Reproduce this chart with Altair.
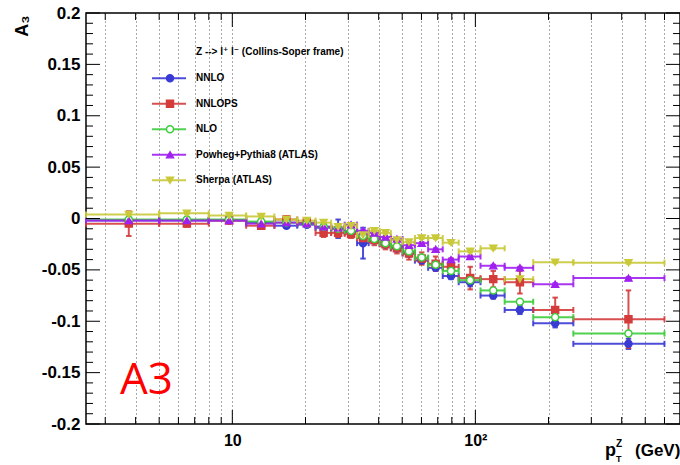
import math
import altair as alt
import pandas as pd

# ---------------- data ----------------
edges = [2.5, 5, 8, 11.4, 14.9, 18.5, 22, 25.5, 29, 32.6, 36.4, 40.4, 44.9,
         50.2, 56.4, 63.9, 73.4, 85.4, 105, 132, 173, 253, 600]

names = ["NNLO", "NNLOPS", "NLO", "Powheg+Pythia8 (ATLAS)", "Sherpa (ATLAS)"]

nnlo = [-0.002, -0.002, -0.002, -0.004, -0.007, -0.006, -0.009, -0.010, -0.013, -0.024, -0.021,
        -0.025, -0.029, -0.034, -0.041, -0.048, -0.056, -0.062, -0.075, -0.089, -0.102, -0.122]
nnlo_err = [0.002, 0.002, 0.002, 0.002, 0.002, 0.002, 0.003, 0.009, 0.003, 0.015, 0.003,
            0.003, 0.003, 0.003, 0.003, 0.003, 0.003, 0.004, 0.003, 0.004, 0.004, 0.005]

nnlops = [-0.005, -0.005, -0.002, -0.007, -0.001, -0.004, -0.014, -0.014, -0.015, -0.019, -0.021,
          -0.025, -0.029, -0.034, -0.039, -0.044, -0.047, -0.058, -0.059, -0.062, -0.089, -0.098]
nnlops_err = [0.012, 0.003, 0.002, 0.003, 0.003, 0.003, 0.004, 0.004, 0.004, 0.005, 0.005,
              0.005, 0.005, 0.006, 0.006, 0.007, 0.008, 0.011, 0.008, 0.011, 0.012, 0.028]

nlo = [-0.001, -0.001, -0.001, -0.003, -0.004, -0.005, -0.008, -0.010, -0.012, -0.017, -0.020,
       -0.024, -0.027, -0.032, -0.038, -0.045, -0.051, -0.060, -0.070, -0.081, -0.096, -0.112]
nlo_err = [0.002] * 22

powheg = [-0.002, -0.002, -0.002, -0.005, -0.004, -0.005, -0.008, -0.009, -0.006, -0.012, -0.014,
          -0.018, -0.020, -0.026, -0.024, -0.030, -0.040, -0.037, -0.046, -0.048, -0.064, -0.058]
powheg_err = [0.001] * 22

sherpa = [0.004, 0.005, 0.003, 0.002, -0.001, -0.002, -0.004, -0.008, -0.007, -0.016, -0.012,
          -0.014, -0.021, -0.023, -0.019, -0.019, -0.0235, -0.032, -0.029, -0.059, -0.0425, -0.043]
sherpa_err = [0.001] * 22

values = [nnlo, nnlops, nlo, powheg, sherpa]
errors = [nnlo_err, nnlops_err, nlo_err, powheg_err, sherpa_err]

legend_title = "Z --> l\u207a l\u207b  (Collins-Soper frame)"

# ---------------- style ----------------
colors = ["#3a3ad4", "#d43c3c", "#3dcc3d", "#a020f0", "#c9c93a"]
fills = ["#3a3ad4", "#d43c3c", "#ffffff", "#a020f0", "#c9c93a"]
shapes = ["circle", "square", "circle", "triangle-up", "triangle-down"]
sizes = [50, 50, 50, 70, 70]

W, H = 594, 411
XMIN, XMAX = 2.5, 695
YMIN, YMAX = -0.2, 0.2
FONT = "Liberation Sans, DejaVu Sans"


def xdata(px):
    return 10 ** (math.log10(XMIN) + px / W * math.log10(XMAX / XMIN))


def ydata(py):
    return YMAX - py / H * (YMAX - YMIN)


rows = []
for name, vals, errs in zip(names, values, errors):
    for j, (v, e) in enumerate(zip(vals, errs)):
        lo, hi = edges[j], edges[j + 1]
        rows.append(dict(series=name, lo=lo, hi=hi, c=(lo + hi) / 2, v=v, vlo=v - e, vhi=v + e))
df = pd.DataFrame(rows)

hcaps = []
vcaps = []
for r in rows:
    hcaps.append(dict(series=r["series"], xe=r["lo"], v=r["v"]))
    hcaps.append(dict(series=r["series"], xe=r["hi"], v=r["v"]))
    vcaps.append(dict(series=r["series"], c=r["c"], ye=r["vlo"]))
    vcaps.append(dict(series=r["series"], c=r["c"], ye=r["vhi"]))
hcaps = pd.DataFrame(hcaps)
vcaps = pd.DataFrame(vcaps)

xscale = alt.Scale(type="log", domain=[XMIN, XMAX], nice=False)
yscale = alt.Scale(domain=[YMIN, YMAX], nice=False, zero=False)

x_grid_vals = [3, 4, 5, 6, 7, 8, 9, 10, 20, 30, 40, 50, 60, 70, 80, 90, 100, 200, 300, 400, 500, 600]
y_label_vals = [-0.2, -0.15, -0.1, -0.05, 0, 0.05, 0.1, 0.15, 0.2]

xaxis = alt.Axis(values=x_grid_vals,
                 labelExpr="datum.value == 10 ? '10' : datum.value == 100 ? '10\u00b2' : ''",
                 grid=True, gridDash=[1, 3], gridColor="#555555", gridWidth=1,
                 ticks=False, domain=False, labelFont=FONT, labelFontSize=16,
                 labelFontWeight="bold", labelColor="black", labelPadding=8,
                 labelOverlap=False, labelFlush=False)
yaxis = alt.Axis(values=y_label_vals, labelExpr="'' + datum.value", grid=False,
                 ticks=False, domain=False, labelFont=FONT, labelFontSize=17,
                 labelFontWeight="bold", labelColor="black", labelPadding=6,
                 titleFont=FONT, titleFontSize=18, titleFontWeight="bold",
                 titleColor="black", titleAngle=270, titleAlign="right",
                 titleBaseline="alphabetic", titleX=-59, titleY=2)


def X(f):
    return alt.X(f, type="quantitative", scale=xscale, axis=xaxis, title=None)


def Y(f):
    return alt.Y(f, type="quantitative", scale=yscale, axis=yaxis, title="A\u2083")


cscale = alt.Scale(domain=names, range=colors)
fscale = alt.Scale(domain=names, range=fills)
sscale = alt.Scale(domain=names, range=shapes)
zscale = alt.Scale(domain=names, range=sizes)

col = alt.Color("series:N", scale=cscale, legend=None)

hbar = alt.Chart(df).mark_rule(strokeWidth=2, opacity=0.9).encode(
    x=X("lo"), x2="hi", y=Y("v"), color=col)
hcap = alt.Chart(hcaps).mark_point(shape="M0,-1L0,1", filled=False, size=36,
                                    strokeWidth=2, opacity=0.9).encode(
    x=X("xe"), y=Y("v"), color=col)
vbar = alt.Chart(df).mark_rule(strokeWidth=2, opacity=0.9).encode(
    x=X("c"), y=Y("vlo"), y2="vhi", color=col)
vcap = alt.Chart(vcaps).mark_point(shape="M-1,0L1,0", filled=False, size=30,
                                    strokeWidth=2, opacity=0.9).encode(
    x=X("c"), y=Y("ye"), color=col)
marks = alt.Chart(df).mark_point(filled=True, opacity=1, strokeWidth=1.4).encode(
    x=X("c"), y=Y("v"),
    shape=alt.Shape("series:N", scale=sscale, legend=None),
    fill=alt.Fill("series:N", scale=fscale, legend=None),
    stroke=alt.Stroke("series:N", scale=cscale, legend=None),
    size=alt.Size("series:N", scale=zscale, legend=None))

# ---------------- inward axis ticks ----------------
xt_major = [10, 100]
xt_minor = [v for v in x_grid_vals if v not in xt_major]
yt_all = [round(-0.2 + 0.01 * i, 2) for i in range(41)]
yt_major = [v for i, v in enumerate(yt_all) if i % 5 == 0]
yt_minor = [v for i, v in enumerate(yt_all) if i % 5 != 0]

dxmaj = pd.DataFrame({"t": xt_major})
dxmin = pd.DataFrame({"t": xt_minor})
dymaj = pd.DataFrame({"t": yt_major})
dymin = pd.DataFrame({"t": yt_minor})

tick_layers = []
for d, L in ((dxmaj, 14), (dxmin, 7)):
    tick_layers.append(alt.Chart(d).mark_rule(color="black", strokeWidth=1).encode(
        x=X("t"), y=alt.value(H), y2=alt.value(H - L)))
    tick_layers.append(alt.Chart(d).mark_rule(color="black", strokeWidth=1).encode(
        x=X("t"), y=alt.value(0), y2=alt.value(L)))
for d, L in ((dymaj, 14), (dymin, 7)):
    tick_layers.append(alt.Chart(d).mark_rule(color="black", strokeWidth=1).encode(
        y=Y("t"), x=alt.value(0), x2=alt.value(L)))
    tick_layers.append(alt.Chart(d).mark_rule(color="black", strokeWidth=1).encode(
        y=Y("t"), x=alt.value(W), x2=alt.value(W - L)))

# ---------------- legend (ROOT style) ----------------
leg = pd.DataFrame({
    "series": names,
    "lx1": [xdata(66)] * 5,
    "lx2": [xdata(100)] * 5,
    "lxm": [xdata(84)] * 5,
    "lxt": [xdata(110)] * 5,
    "ly": [ydata(65.3 + 25.5 * i) for i in range(5)],
})
leg_line = alt.Chart(leg).mark_rule(strokeWidth=2, opacity=0.9).encode(
    x=X("lx1"), x2="lx2", y=Y("ly"), color=col)
leg_mark = alt.Chart(leg).mark_point(filled=True, opacity=1, strokeWidth=1.4).encode(
    x=X("lxm"), y=Y("ly"),
    shape=alt.Shape("series:N", scale=sscale, legend=None),
    fill=alt.Fill("series:N", scale=fscale, legend=None),
    stroke=alt.Stroke("series:N", scale=cscale, legend=None),
    size=alt.Size("series:N", scale=zscale, legend=None))
leg_text = alt.Chart(leg).mark_text(align="left", baseline="middle", font=FONT,
                                    fontSize=10, fontWeight="bold", color="black").encode(
    x=X("lxt"), y=Y("ly"), text="series:N")
leg_title = alt.Chart(pd.DataFrame({"s": [legend_title], "x": [xdata(110)], "y": [ydata(38.7)]})).mark_text(
    align="left", baseline="middle", font=FONT, fontSize=10, fontWeight="bold", color="black").encode(
    x=X("x"), y=Y("y"), text="s:N")

# ---------------- annotations ----------------
def label(txt, px, py, size, weight="bold", color="black", font=FONT):
    return alt.Chart(pd.DataFrame({"s": [txt]})).mark_text(
        align="left", baseline="alphabetic", font=font, fontSize=size,
        fontWeight=weight, color=color).encode(
        x=alt.value(px), y=alt.value(py), text="s:N")

a3 = label("A3", 34, 381, 44, weight="normal", color="#ff0000", font="Open Sans")
xt1 = label("p", 519, 443, 18)
xt2 = label("Z", 530, 434, 10)
xt3 = label("T", 530, 449, 9)
xt4 = label("(GeV)", 549, 443, 17)

chart = alt.layer(
    hbar, hcap, vbar, vcap, marks, *tick_layers,
    leg_line, leg_mark, leg_text, leg_title,
    a3, xt1, xt2, xt3, xt4,
).properties(
    width=W, height=H,
    padding={"left": 86, "top": 13, "right": 0, "bottom": 41},
    autosize=alt.AutoSizeParams(type="none"),
    background="white",
).configure_view(stroke="black", strokeWidth=1.5)

chart.save("out.html", embed_options={"renderer": "svg", "actions": False})
